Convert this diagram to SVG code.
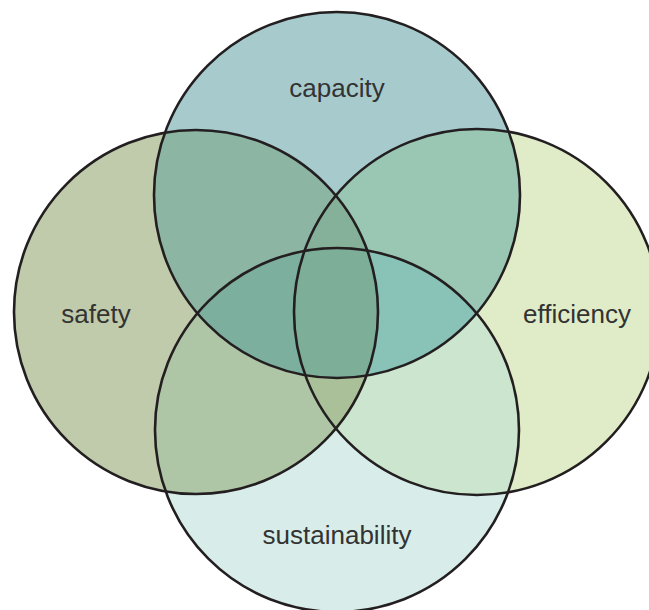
<svg xmlns="http://www.w3.org/2000/svg" width="649" height="610" viewBox="0 0 649 610">
  <style>
    .ring { fill: none; stroke: #231f20; stroke-width: 2.6; }
    .label { font-family: "Liberation Sans", Arial, sans-serif; font-size: 26px; fill: #333333; text-anchor: middle; }
  </style>
  <defs>
    <circle id="cCap" cx="337" cy="195" r="183"/>
    <circle id="cSaf" cx="196" cy="312" r="182"/>
    <circle id="cEff" cx="477" cy="312" r="183"/>
    <circle id="cSus" cx="337" cy="430" r="182"/>
    <clipPath id="kCap"><use href="#cCap"/></clipPath>
    <clipPath id="kSaf"><use href="#cSaf"/></clipPath>
    <clipPath id="kEff"><use href="#cEff"/></clipPath>
    <clipPath id="kSus"><use href="#cSus"/></clipPath>
  </defs>

  <rect width="649" height="610" fill="#ffffff"/>

  <!-- single-set fills -->
  <g id="fills">
    <use href="#cSus" fill="#d8edea"/>
    <use href="#cSaf" fill="#bfcbaa"/>
    <use href="#cEff" fill="#e0ecc7"/>
    <use href="#cCap" fill="#a7cbcd"/>
  </g>

  <!-- overlap fills, painted from pairs up to the four-way core -->
  <g id="overlaps">
    <use href="#cCap" fill="#8cb5a3" clip-path="url(#kSaf)"/>
    <use href="#cCap" fill="#9ac6b4" clip-path="url(#kEff)"/>
    <use href="#cSaf" fill="#afc6a6" clip-path="url(#kSus)"/>
    <use href="#cEff" fill="#cbe5cf" clip-path="url(#kSus)"/>
    <g clip-path="url(#kSaf)"><use href="#cCap" fill="#85b09a" clip-path="url(#kEff)"/></g>
    <g clip-path="url(#kSaf)"><use href="#cCap" fill="#7caf9e" clip-path="url(#kSus)"/></g>
    <g clip-path="url(#kEff)"><use href="#cCap" fill="#89c2b6" clip-path="url(#kSus)"/></g>
    <g clip-path="url(#kEff)"><use href="#cSaf" fill="#a9c098" clip-path="url(#kSus)"/></g>
    <g clip-path="url(#kSaf)"><g clip-path="url(#kEff)"><use href="#cCap" fill="#7dae98" clip-path="url(#kSus)"/></g></g>
  </g>

  <g id="node-capacity">
    <use href="#cCap" class="ring"/>
    <text class="label" x="337" y="97">capacity</text>
  </g>
  <g id="node-safety">
    <use href="#cSaf" class="ring"/>
    <text class="label" x="96" y="323">safety</text>
  </g>
  <g id="node-efficiency">
    <use href="#cEff" class="ring"/>
    <text class="label" x="577" y="323">efficiency</text>
  </g>
  <g id="node-sustainability">
    <use href="#cSus" class="ring"/>
    <text class="label" x="337" y="544">sustainability</text>
  </g>
</svg>
